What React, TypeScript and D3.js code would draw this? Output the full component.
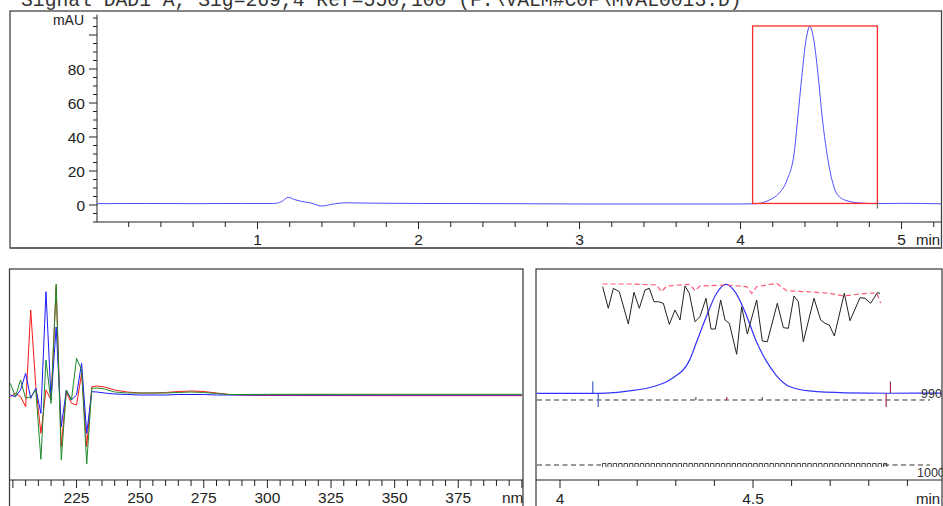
import React from 'react';
import * as d3 from 'd3';

const W = 943;
const H = 506;

const title = 'Signal DAD1 A, Sig=269,4 Ref=550,100 (F:\\VALM#C0F\\MVAL0013.D)';

// chromatogram, signal DAD1 A (min / mAU)
const chromTime = [0, 0.3, 0.6, 0.9, 1.1, 1.15, 1.19, 1.23, 1.27, 1.33, 1.4, 1.46, 1.55, 1.7, 2.0, 2.5, 3.0, 3.5, 4.0, 4.075, 4.12, 4.18, 4.24, 4.29, 4.335, 4.354, 4.38, 4.405, 4.43, 4.455, 4.48, 4.509, 4.534, 4.56, 4.596, 4.646, 4.74, 4.85, 5.0, 5.245];
const chromMAU = [0.8, 0.9, 0.8, 0.9, 0.9, 2.0, 4.5, 3.2, 2.2, 1.2, -0.6, 0.4, 1.3, 1.1, 0.9, 0.8, 0.6, 0.6, 0.6, 0.7, 1.0, 3, 7, 15, 32, 50, 75, 96, 105, 97, 78, 50, 32, 18, 7, 3, 1.2, 0.8, 1.0, 0.7];

// integration window of the main peak
const peakStart = 4.075;
const peakEnd = 4.85;
const peakTop = 105.3;
const peakBase = 0.9;

// UV spectra across the peak (nm / rel. absorbance)
const wavelengths = [199, 201, 203, 205, 207, 209, 211, 213, 215, 217, 219, 221, 223, 225, 227, 229, 231, 233, 236, 240, 245, 250, 255, 260, 265, 270, 275, 280, 285, 290, 300, 350, 400];
const specRed = [-0.17, 0.17, -0.17, -1.17, 8.5, 0.83, -3.83, 0.5, -0.5, 10.83, -5.17, 0.33, -0.83, -1.0, 2.17, -5.17, 0.83, 0.9, 0.8, 0.5, 0.3, 0.2, 0.2, 0.25, 0.35, 0.4, 0.35, 0.2, 0.05, 0, -0.05, -0.07, -0.07];
const specBlue = [0, -0.17, 0.5, 2.17, -0.33, 0.67, -1.83, 10.33, -0.5, 6.8, -3.17, 0.5, -0.5, 0, 3.17, -3.83, 0.33, 0.3, 0.2, 0.1, 0.05, 0, 0, 0, 0.05, 0.05, 0.05, 0, 0, 0, 0, 0, 0];
const specGreen = [1.17, -0.17, 1.5, -0.33, -0.17, 0.5, -6.43, 3.5, -0.83, 11.1, -6.5, 0.5, -0.5, 3.67, 2.5, -6.9, 0.67, 0.7, 0.6, 0.3, 0.2, 0.2, 0.2, 0.2, 0.25, 0.3, 0.25, 0.15, 0.05, 0.05, 0.07, 0.07, 0.07];

// purity ratio curve (black) and threshold curve (red dashed)
const ratioTime = [4.1105, 4.1252, 4.1382, 4.1537, 4.177, 4.1917, 4.2055, 4.2202, 4.2314, 4.2435, 4.2547, 4.2677, 4.2832, 4.2979, 4.3109, 4.3238, 4.3351, 4.3497, 4.3627, 4.3782, 4.3912, 4.4024, 4.4162, 4.4275, 4.4387, 4.4577, 4.4706, 4.4853, 4.5095, 4.5242, 4.5371, 4.563, 4.5786, 4.5915, 4.6062, 4.6174, 4.6304, 4.658, 4.6753, 4.6865, 4.6978, 4.7107, 4.7366, 4.7513, 4.7772, 4.7902, 4.8048, 4.8221, 4.829];
const ratioVal = [113.3, 91.7, 111.7, 108.3, 76, 107.7, 91.7, 110, 111.7, 98.3, 98.3, 96.7, 75.7, 90, 80, 114, 106.7, 78.3, 83.3, 101.7, 71, 71, 100, 80, 76.7, 45.7, 93.3, 66, 100, 59, 58.3, 96.7, 72.3, 71.7, 104, 98.3, 58.3, 101.7, 80, 76.7, 75, 64, 106.7, 79.3, 102.3, 101.7, 96.7, 107.3, 106.7];
const threshTime = [4.1105, 4.1813, 4.2504, 4.2634, 4.2763, 4.3368, 4.3497, 4.3627, 4.4318, 4.4836, 4.4965, 4.5095, 4.5613, 4.5872, 4.639, 4.6995, 4.734, 4.7772, 4.8204, 4.8307];
const threshVal = [116, 116, 115, 108.3, 114, 115.7, 109.3, 114, 115, 113.3, 106.7, 113.3, 116.7, 109.3, 108.3, 106.7, 104, 106, 107.3, 96.7];

// marks on the purity panel
const baseMarks = [{ t: 4.085, c: '#4060c0' }, { t: 4.856, c: '#a03050' }];
const lineMarks = [
  { t: 4.099, c: '#4060c0', big: true },
  { t: 4.352, c: '#555', big: false },
  { t: 4.432, c: '#c02040', big: false },
  { t: 4.524, c: '#555', big: false },
  { t: 4.845, c: '#a03050', big: true },
];

const font = "'Liberation Sans', Arial, sans-serif";
const ink = '#222';

export default function App() {
  // top chromatogram
  const x = d3.scaleLinear().domain([0, 5.245]).range([96.5, 941]);
  const y = d3.scaleLinear().domain([-10, 112]).range([222, 14.6]);
  const chromPts = chromTime.map((t, i) => [t, chromMAU[i]] as [number, number]);
  const chromLine = d3.line<[number, number]>().x(d => x(d[0])).y(d => y(d[1])).curve(d3.curveMonotoneX);

  const xTicks = d3.range(1, 27).map(i => +(i * 0.2).toFixed(1));
  const yTicks = d3.range(-10, 111, 5);

  // spectra
  const sx = d3.scaleLinear().domain([200, 400]).range([12.9, 521.9]);
  const sy = d3.scaleLinear().domain([0, 10]).range([395, 295]);
  const specLine = d3.line<number>().x((_, i) => sx(wavelengths[i])).y(d => sy(d));
  const sTicks = d3.range(200, 401, 5);
  const sLabels = [225, 250, 275, 300, 325, 350, 375];

  // purity zoom
  const px = d3.scaleLinear().domain([4, 5]).range([560, 946]);
  const py = d3.scaleLinear().domain([0, 105]).range([394.1, 284.3]);
  const ry = d3.scaleLinear().domain([0, 130]).range([400, 270]);
  const zoomLine = d3.line<[number, number]>().x(d => px(d[0])).y(d => py(d[1])).curve(d3.curveMonotoneX);
  const ratioLine = d3.line<number>().x((_, i) => px(ratioTime[i])).y(d => ry(d));
  const threshLine = d3.line<number>().x((_, i) => px(threshTime[i])).y(d => ry(d));
  const pTicks = d3.range(0, 10).map(i => +(4 + i / 10).toFixed(1));
  const archTimes = d3.range(4.11, 4.84, 0.014);

  return (
    <svg width={W} height={H} style={{ position: 'absolute', left: 0, top: 0, background: '#fff' }} fontFamily={font}>
      <defs>
        <clipPath id="clipTop"><rect x={97} y={12} width={844} height={236} /></clipPath>
        <clipPath id="clipR"><rect x={536.5} y={269.5} width={405} height={210} /></clipPath>
      </defs>

      <text x={21} y={6} fontFamily="'Liberation Mono', 'Courier New', monospace" fontSize={19.7} fill="#333">{title}</text>

      {/* ---------- top panel ---------- */}
      <rect x={10} y={11} width={931.5} height={237} fill="none" stroke="#444" strokeWidth={1.3} />
      <line x1={10} x2={941.5} y1={248} y2={248} stroke="#666" strokeWidth={2} />

      <line x1={97} x2={97} y1={14.6} y2={222} stroke={ink} />
      {yTicks.map(v => (
        <line key={'yt' + v} x1={v % 20 === 0 ? 89 : 93} x2={97} y1={y(v)} y2={y(v)} stroke={ink} />
      ))}
      {[0, 20, 40, 60, 80].map(v => (
        <text key={'yl' + v} x={85} y={y(v) + 5.5} fontSize={15.5} textAnchor="end" fill={ink}>{v}</text>
      ))}
      <text x={84} y={25} fontSize={14} textAnchor="end" fill={ink}>mAU</text>

      <line x1={97} x2={941} y1={222} y2={222} stroke={ink} />
      {xTicks.map(v => (
        <line key={'xt' + v} x1={x(v)} x2={x(v)} y1={222} y2={Number.isInteger(v) ? 229 : 227} stroke={ink} />
      ))}
      {[1, 2, 3, 4, 5].map(v => (
        <text key={'xl' + v} x={x(v)} y={245} fontSize={15.5} textAnchor="middle" fill={ink}>{v}</text>
      ))}
      <text x={916} y={245} fontSize={15} fill={ink}>min</text>

      <g clipPath="url(#clipTop)">
        <path d={chromLine(chromPts) || ''} fill="none" stroke="#4d4dff" strokeWidth={1} />
      </g>
      <rect x={x(peakStart)} y={y(peakTop)} width={x(peakEnd) - x(peakStart)} height={y(peakBase) - y(peakTop)}
        fill="none" stroke="#ff2a2a" strokeWidth={1.3} />
      <line x1={x(peakEnd)} x2={x(peakEnd)} y1={y(peakBase)} y2={y(peakBase) + 5} stroke="#555" />

      {/* ---------- spectra panel ---------- */}
      <rect x={9.5} y={269} width={513.5} height={260} fill="none" stroke="#444" strokeWidth={1.3} />
      <line x1={10} x2={523} y1={480} y2={480} stroke={ink} />
      {sTicks.map(v => (
        <line key={'st' + v} x1={sx(v)} x2={sx(v)} y1={480} y2={v % 25 === 0 ? 488 : 486} stroke={ink} />
      ))}
      {sLabels.map(v => (
        <text key={'sl' + v} x={sx(v)} y={503} fontSize={15.5} textAnchor="middle" fill={ink}>{v}</text>
      ))}
      <text x={502} y={503} fontSize={15.5} fill={ink}>nm</text>
      <path d={specLine(specRed) || ''} fill="none" stroke="#ff1a1a" strokeWidth={1} />
      <path d={specLine(specBlue) || ''} fill="none" stroke="#1a1aff" strokeWidth={1} />
      <path d={specLine(specGreen) || ''} fill="none" stroke="#1f8a2a" strokeWidth={1} />

      {/* ---------- purity panel ---------- */}
      <rect x={536} y={269} width={406} height={260} fill="none" stroke="#444" strokeWidth={1.3} />
      <line x1={536} x2={942} y1={480} y2={480} stroke={ink} />
      {pTicks.map(v => (
        <line key={'pt' + v} x1={px(v)} x2={px(v)} y1={480} y2={v === 4 || v === 4.5 ? 488 : 486} stroke={ink} />
      ))}
      <text x={px(4)} y={504} fontSize={15.5} textAnchor="middle" fill={ink}>4</text>
      <text x={px(4.5)} y={504} fontSize={15.5} textAnchor="middle" fill={ink}>4.5</text>
      <text x={916} y={504} fontSize={15} fill={ink}>min</text>

      <line x1={537} x2={930} y1={400} y2={400} stroke="#333" strokeDasharray="5,3.5" />
      <line x1={537} x2={601} y1={465} y2={465} stroke="#333" strokeDasharray="5,3.5" />
      <line x1={884} x2={930} y1={465} y2={465} stroke="#333" strokeDasharray="5,3.5" />
      <path d={archTimes.map(t => `M${px(t)},467V463.5H${px(t) + 3.4}V467`).join('')} fill="none" stroke="#333" strokeWidth={0.9} />
      {lineMarks.map(m => (
        <line key={'lm' + m.t} x1={px(m.t)} x2={px(m.t)} y1={m.big ? 393 : 397} y2={m.big ? 407 : 400} stroke={m.c} strokeWidth={1.2} />
      ))}

      <g clipPath="url(#clipR)">
        <path d={zoomLine(chromPts) || ''} fill="none" stroke="#3333ff" strokeWidth={1.2} />
      </g>
      {baseMarks.map(m => (
        <line key={'bm' + m.t} x1={px(m.t)} x2={px(m.t)} y1={381.5} y2={393} stroke={m.c} strokeWidth={1.2} />
      ))}
      <path d={threshLine(threshVal) || ''} fill="none" stroke="#ff5a78" strokeWidth={1.2} strokeDasharray="5,3" />
      <path d={ratioLine(ratioVal) || ''} fill="none" stroke="#222" strokeWidth={1} />

      <text x={921} y={398} fontSize={12.5} fill="#333">990</text>
      <text x={917} y={477} fontSize={12.5} fill="#333">1000</text>
    </svg>
  );
}
